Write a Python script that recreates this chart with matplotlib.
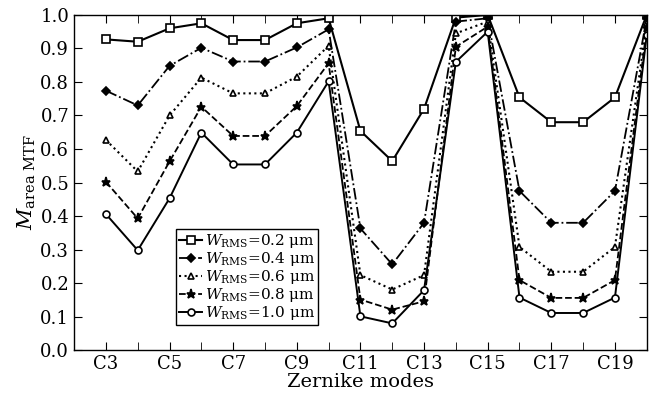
import numpy as np
import matplotlib
matplotlib.use("Agg")
import matplotlib.pyplot as plt

plt.rcParams['font.family'] = 'DejaVu Serif'
plt.rcParams['mathtext.fontset'] = 'dejavuserif'

# Zernike modes C3..C20
modes = list(range(3, 21))
tick_labels = ["C%d" % m for m in range(3, 20, 2)]

w02 = [0.927, 0.92, 0.96, 0.975, 0.925, 0.925, 0.975, 0.99, 0.654, 0.564,
       0.72, 0.992, 1.0, 0.754, 0.68, 0.68, 0.754, 1.0]
w04 = [0.774, 0.73, 0.848, 0.902, 0.861, 0.861, 0.903, 0.957, 0.363, 0.256,
       0.38, 0.98, 0.99, 0.475, 0.38, 0.38, 0.475, 0.99]
w06 = [0.627, 0.533, 0.70, 0.813, 0.766, 0.766, 0.816, 0.908, 0.224, 0.181,
       0.224, 0.945, 0.98, 0.308, 0.234, 0.234, 0.308, 0.975]
w08 = [0.502, 0.393, 0.563, 0.726, 0.639, 0.639, 0.728, 0.856, 0.151, 0.121,
       0.146, 0.905, 0.965, 0.209, 0.156, 0.156, 0.209, 0.96]
w10 = [0.406, 0.298, 0.453, 0.649, 0.554, 0.554, 0.649, 0.802, 0.101, 0.08,
       0.179, 0.86, 0.95, 0.157, 0.111, 0.111, 0.157, 0.94]

series = [w02, w04, w06, w08, w10]
labels = [r"$W_{\rm RMS}$=0.2 μm", r"$W_{\rm RMS}$=0.4 μm", r"$W_{\rm RMS}$=0.6 μm",
          r"$W_{\rm RMS}$=0.8 μm", r"$W_{\rm RMS}$=1.0 μm"]
styles = [('-', 's', 'white', 1.5), ('-.', 'D', 'black', 1.3), (':', '^', 'white', 1.5),
          ('--', '*', 'black', 1.3), ('-', 'o', 'white', 1.4)]
msizes = [5.5, 4.5, 4.5, 6.5, 5]

fig = plt.figure(figsize=(6.5, 4.03), dpi=100)
ax = fig.add_axes([0.114, 0.131, 0.881, 0.832])

for vals, lab, (ls, mk, fc, lw), ms in zip(series, labels, styles, msizes):
    ax.plot(modes, vals, linestyle=ls, marker=mk, color='black', mfc=fc,
            mec='black', mew=1.2, ms=ms, lw=lw, label=lab)

ax.set_xlim(2, 20)
ax.set_ylim(0, 1.0)
ax.set_xticks(range(3, 20, 2))
ax.set_xticklabels(tick_labels)
ax.set_xticks(range(3, 20), minor=True)
ax.set_yticks(np.arange(0, 1.01, 0.1))
ax.set_yticklabels(["%.1f" % v for v in np.arange(0, 1.01, 0.1)])
ax.tick_params(which='both', direction='in', top=True, right=True, labelsize=13)
ax.tick_params(which='major', length=6)
ax.tick_params(which='minor', length=6)
for s in ax.spines.values():
    s.set_linewidth(1.0)

ax.set_xlabel("Zernike modes", fontsize=14, labelpad=0)
ax.set_ylabel(r"$M_{\rm area\ MTF}$", fontsize=15, labelpad=2)

leg = ax.legend(loc='lower left', bbox_to_anchor=(0.178, 0.075), fontsize=11,
                handlelength=1.5, handletextpad=0.2, labelspacing=0.0,
                borderpad=0.2, borderaxespad=0, fancybox=False, framealpha=1,
                edgecolor='black')
leg.get_frame().set_linewidth(1.0)

fig.savefig("out.png", dpi=100)
